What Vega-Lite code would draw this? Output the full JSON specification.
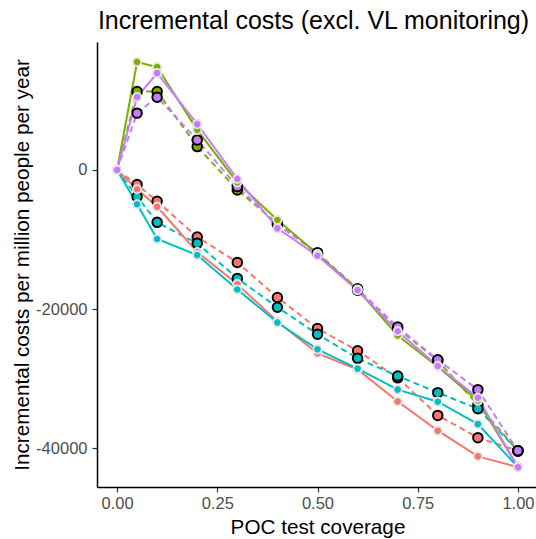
{
  "$schema": "https://vega.github.io/schema/vega-lite/v6.json",
  "width": 441,
  "height": 445,
  "autosize": {"type": "none"},
  "padding": {"left": 97, "top": 42, "right": 0, "bottom": 52},
  "background": "white",
  "config": {"view": {"stroke": null}, "font": "Liberation Sans"},
  "title": {"text": "Incremental costs (excl. VL monitoring)", "fontSize": 25, "font": "Liberation Sans", "fontWeight": "normal", "color": "black", "anchor": "middle", "frame": "group", "baseline": "alphabetic", "offset": -12, "dx": -4},
  "data": {"values": [
    {"cov": 0, "cost": 0, "grp": "A", "lt": "dashed"},
    {"cov": 0.05, "cost": -2100, "grp": "A", "lt": "dashed"},
    {"cov": 0.1, "cost": -4500, "grp": "A", "lt": "dashed"},
    {"cov": 0.2, "cost": -9650, "grp": "A", "lt": "dashed"},
    {"cov": 0.3, "cost": -13300, "grp": "A", "lt": "dashed"},
    {"cov": 0.4, "cost": -18350, "grp": "A", "lt": "dashed"},
    {"cov": 0.5, "cost": -22800, "grp": "A", "lt": "dashed"},
    {"cov": 0.6, "cost": -26000, "grp": "A", "lt": "dashed"},
    {"cov": 0.7, "cost": -29900, "grp": "A", "lt": "dashed"},
    {"cov": 0.8, "cost": -35300, "grp": "A", "lt": "dashed"},
    {"cov": 0.9, "cost": -38500, "grp": "A", "lt": "dashed"},
    {"cov": 1.0, "cost": -40400, "grp": "A", "lt": "dashed"},
    {"cov": 0, "cost": 0, "grp": "B", "lt": "dashed"},
    {"cov": 0.05, "cost": 11280, "grp": "B", "lt": "dashed"},
    {"cov": 0.1, "cost": 11280, "grp": "B", "lt": "dashed"},
    {"cov": 0.2, "cost": 3360, "grp": "B", "lt": "dashed"},
    {"cov": 0.3, "cost": -2880, "grp": "B", "lt": "dashed"},
    {"cov": 0.4, "cost": -7700, "grp": "B", "lt": "dashed"},
    {"cov": 0.5, "cost": -12000, "grp": "B", "lt": "dashed"},
    {"cov": 0.6, "cost": -17300, "grp": "B", "lt": "dashed"},
    {"cov": 0.7, "cost": -22800, "grp": "B", "lt": "dashed"},
    {"cov": 0.8, "cost": -27400, "grp": "B", "lt": "dashed"},
    {"cov": 0.9, "cost": -33800, "grp": "B", "lt": "dashed"},
    {"cov": 1.0, "cost": -40400, "grp": "B", "lt": "dashed"},
    {"cov": 0, "cost": 0, "grp": "C", "lt": "dashed"},
    {"cov": 0.05, "cost": -3850, "grp": "C", "lt": "dashed"},
    {"cov": 0.1, "cost": -7540, "grp": "C", "lt": "dashed"},
    {"cov": 0.2, "cost": -10560, "grp": "C", "lt": "dashed"},
    {"cov": 0.3, "cost": -15600, "grp": "C", "lt": "dashed"},
    {"cov": 0.4, "cost": -19750, "grp": "C", "lt": "dashed"},
    {"cov": 0.5, "cost": -23630, "grp": "C", "lt": "dashed"},
    {"cov": 0.6, "cost": -27100, "grp": "C", "lt": "dashed"},
    {"cov": 0.7, "cost": -29640, "grp": "C", "lt": "dashed"},
    {"cov": 0.8, "cost": -32030, "grp": "C", "lt": "dashed"},
    {"cov": 0.9, "cost": -34340, "grp": "C", "lt": "dashed"},
    {"cov": 1.0, "cost": -40400, "grp": "C", "lt": "dashed"},
    {"cov": 0, "cost": 0, "grp": "D", "lt": "dashed"},
    {"cov": 0.05, "cost": 8170, "grp": "D", "lt": "dashed"},
    {"cov": 0.1, "cost": 10470, "grp": "D", "lt": "dashed"},
    {"cov": 0.2, "cost": 4320, "grp": "D", "lt": "dashed"},
    {"cov": 0.3, "cost": -2400, "grp": "D", "lt": "dashed"},
    {"cov": 0.4, "cost": -7900, "grp": "D", "lt": "dashed"},
    {"cov": 0.5, "cost": -11900, "grp": "D", "lt": "dashed"},
    {"cov": 0.6, "cost": -17100, "grp": "D", "lt": "dashed"},
    {"cov": 0.7, "cost": -22600, "grp": "D", "lt": "dashed"},
    {"cov": 0.8, "cost": -27300, "grp": "D", "lt": "dashed"},
    {"cov": 0.9, "cost": -31600, "grp": "D", "lt": "dashed"},
    {"cov": 1.0, "cost": -40400, "grp": "D", "lt": "dashed"},
    {"cov": 0, "cost": 0, "grp": "A", "lt": "solid"},
    {"cov": 0.05, "cost": -2780, "grp": "A", "lt": "solid"},
    {"cov": 0.1, "cost": -5290, "grp": "A", "lt": "solid"},
    {"cov": 0.2, "cost": -11800, "grp": "A", "lt": "solid"},
    {"cov": 0.3, "cost": -16430, "grp": "A", "lt": "solid"},
    {"cov": 0.4, "cost": -21800, "grp": "A", "lt": "solid"},
    {"cov": 0.5, "cost": -26400, "grp": "A", "lt": "solid"},
    {"cov": 0.6, "cost": -28700, "grp": "A", "lt": "solid"},
    {"cov": 0.7, "cost": -33300, "grp": "A", "lt": "solid"},
    {"cov": 0.8, "cost": -37500, "grp": "A", "lt": "solid"},
    {"cov": 0.9, "cost": -41200, "grp": "A", "lt": "solid"},
    {"cov": 1.0, "cost": -42750, "grp": "A", "lt": "solid"},
    {"cov": 0, "cost": 0, "grp": "B", "lt": "solid"},
    {"cov": 0.05, "cost": 15520, "grp": "B", "lt": "solid"},
    {"cov": 0.1, "cost": 14800, "grp": "B", "lt": "solid"},
    {"cov": 0.2, "cost": 5760, "grp": "B", "lt": "solid"},
    {"cov": 0.3, "cost": -1800, "grp": "B", "lt": "solid"},
    {"cov": 0.4, "cost": -7200, "grp": "B", "lt": "solid"},
    {"cov": 0.5, "cost": -12100, "grp": "B", "lt": "solid"},
    {"cov": 0.6, "cost": -17200, "grp": "B", "lt": "solid"},
    {"cov": 0.7, "cost": -23800, "grp": "B", "lt": "solid"},
    {"cov": 0.8, "cost": -28300, "grp": "B", "lt": "solid"},
    {"cov": 0.9, "cost": -33200, "grp": "B", "lt": "solid"},
    {"cov": 1.0, "cost": -42750, "grp": "B", "lt": "solid"},
    {"cov": 0, "cost": 0, "grp": "C", "lt": "solid"},
    {"cov": 0.05, "cost": -4940, "grp": "C", "lt": "solid"},
    {"cov": 0.1, "cost": -9940, "grp": "C", "lt": "solid"},
    {"cov": 0.2, "cost": -12250, "grp": "C", "lt": "solid"},
    {"cov": 0.3, "cost": -17190, "grp": "C", "lt": "solid"},
    {"cov": 0.4, "cost": -21950, "grp": "C", "lt": "solid"},
    {"cov": 0.5, "cost": -25800, "grp": "C", "lt": "solid"},
    {"cov": 0.6, "cost": -28580, "grp": "C", "lt": "solid"},
    {"cov": 0.7, "cost": -31600, "grp": "C", "lt": "solid"},
    {"cov": 0.8, "cost": -33330, "grp": "C", "lt": "solid"},
    {"cov": 0.9, "cost": -36550, "grp": "C", "lt": "solid"},
    {"cov": 1.0, "cost": -42750, "grp": "C", "lt": "solid"},
    {"cov": 0, "cost": 0, "grp": "D", "lt": "solid"},
    {"cov": 0.05, "cost": 10480, "grp": "D", "lt": "solid"},
    {"cov": 0.1, "cost": 13930, "grp": "D", "lt": "solid"},
    {"cov": 0.2, "cost": 6590, "grp": "D", "lt": "solid"},
    {"cov": 0.3, "cost": -1300, "grp": "D", "lt": "solid"},
    {"cov": 0.4, "cost": -8400, "grp": "D", "lt": "solid"},
    {"cov": 0.5, "cost": -12340, "grp": "D", "lt": "solid"},
    {"cov": 0.6, "cost": -17290, "grp": "D", "lt": "solid"},
    {"cov": 0.7, "cost": -23200, "grp": "D", "lt": "solid"},
    {"cov": 0.8, "cost": -28200, "grp": "D", "lt": "solid"},
    {"cov": 0.9, "cost": -32760, "grp": "D", "lt": "solid"},
    {"cov": 1.0, "cost": -42750, "grp": "D", "lt": "solid"}
  ]},
  "encoding": {
    "x": {"field": "cov", "type": "quantitative",
      "scale": {"domain": [-0.05, 1.05], "nice": false, "zero": false},
      "axis": {"values": [0, 0.25, 0.5, 0.75, 1], "format": ".2f", "grid": false,
        "domainColor": "black", "domainWidth": 1.5, "tickColor": "#333333", "tickSize": 5, "tickWidth": 1.2,
        "labelFontSize": 16.5, "labelColor": "#4D4D4D", "labelPadding": 3, "labelFont": "Liberation Sans",
        "title": "POC test coverage", "titleFontSize": 20.7, "titleColor": "black", "titleFontWeight": "normal", "titleFont": "Liberation Sans",
        "titleX": 220.5, "titleY": 46, "titleBaseline": "alphabetic", "titleAlign": "center"}},
    "y": {"field": "cost", "type": "quantitative",
      "scale": {"domain": [-45600, 18400], "nice": false, "zero": false},
      "axis": {"values": [-40000, -20000, 0], "labelExpr": "toString(datum.value)", "grid": false,
        "domainColor": "black", "domainWidth": 1.5, "tickColor": "#333333", "tickSize": 5, "tickWidth": 1.2,
        "labelFontSize": 16.5, "labelColor": "#4D4D4D", "labelPadding": 5, "labelFont": "Liberation Sans",
        "title": "Incremental costs per million people per year", "titleFontSize": 20.7, "titleColor": "black", "titleFontWeight": "normal", "titleFont": "Liberation Sans",
        "titleX": -69, "titleY": 222.5, "titleAngle": -90, "titleBaseline": "alphabetic", "titleAlign": "center"}},
    "color": {"field": "grp", "type": "nominal",
      "scale": {"domain": ["A", "B", "C", "D"], "range": ["#F8766D", "#7CAE00", "#00BFC4", "#C77CFF"]},
      "legend": null}
  },
  "layer": [
    {"transform": [{"filter": "datum.lt == 'dashed'"}],
     "mark": {"type": "line", "strokeWidth": 2, "strokeDash": [6, 4]}},
    {"transform": [{"filter": "datum.lt == 'solid'"}],
     "mark": {"type": "line", "strokeWidth": 2}},
    {"transform": [{"filter": "datum.lt == 'dashed' && datum.cov > 0"}],
     "mark": {"type": "point", "filled": true, "size": 90, "stroke": "black", "strokeWidth": 2, "opacity": 1}},
    {"transform": [{"filter": "datum.lt == 'solid'"}],
     "mark": {"type": "point", "filled": true, "size": 70, "stroke": "#e6e6e6", "strokeWidth": 1.8, "opacity": 1}}
  ]
}
